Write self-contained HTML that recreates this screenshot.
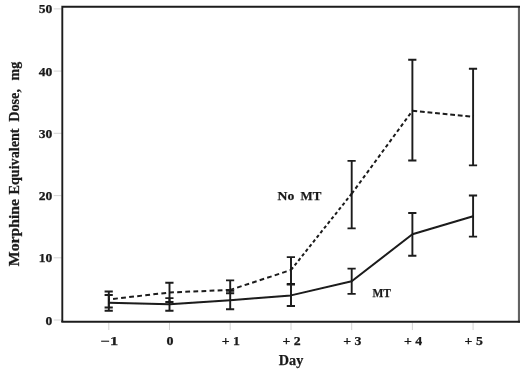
<!DOCTYPE html>
<html><head><meta charset="utf-8"><title>Morphine Equivalent Dose</title>
<style>
html,body{margin:0;padding:0;background:#fff;}
svg{display:block;}
text{font-family:"Liberation Serif","DejaVu Serif",serif;font-weight:bold;fill:#1a1a1a;stroke:#1a1a1a;stroke-width:0.25;}
</style></head><body>
<svg width="520" height="371" viewBox="0 0 520 371">
<defs><filter id="soft" filterUnits="userSpaceOnUse" x="0" y="0" width="520" height="371"><feGaussianBlur stdDeviation="0.45"/></filter></defs>
<rect width="520" height="371" fill="#fff"/>
<g filter="url(#soft)">

<line x1="53.7" y1="320.0" x2="61.5" y2="320.0" stroke="#cfcfcf" stroke-width="0.9"/>
<line x1="53.7" y1="257.8" x2="61.5" y2="257.8" stroke="#cfcfcf" stroke-width="0.9"/>
<line x1="53.7" y1="195.6" x2="61.5" y2="195.6" stroke="#cfcfcf" stroke-width="0.9"/>
<line x1="53.7" y1="133.3" x2="61.5" y2="133.3" stroke="#cfcfcf" stroke-width="0.9"/>
<line x1="53.7" y1="71.1" x2="61.5" y2="71.1" stroke="#cfcfcf" stroke-width="0.9"/>
<line x1="53.7" y1="8.9" x2="61.5" y2="8.9" stroke="#cfcfcf" stroke-width="0.9"/>
<line x1="108.8" y1="322.5" x2="108.8" y2="330" stroke="#cfcfcf" stroke-width="0.9"/>
<line x1="169.5" y1="322.5" x2="169.5" y2="330" stroke="#cfcfcf" stroke-width="0.9"/>
<line x1="230.2" y1="322.5" x2="230.2" y2="330" stroke="#cfcfcf" stroke-width="0.9"/>
<line x1="291.0" y1="322.5" x2="291.0" y2="330" stroke="#cfcfcf" stroke-width="0.9"/>
<line x1="351.7" y1="322.5" x2="351.7" y2="330" stroke="#cfcfcf" stroke-width="0.9"/>
<line x1="412.4" y1="322.5" x2="412.4" y2="330" stroke="#cfcfcf" stroke-width="0.9"/>
<line x1="473.1" y1="322.5" x2="473.1" y2="330" stroke="#cfcfcf" stroke-width="0.9"/>
<rect x="517.9" y="6" width="2.1" height="316.5" fill="#636363"/>
<path d="M62.3 322 V6.7 H520" fill="none" stroke="#1a1a1a" stroke-width="1.9" stroke-linejoin="miter"/>
<path d="M61.35 321.8 H520" fill="none" stroke="#1a1a1a" stroke-width="1.9"/>
<text x="45.6" y="324.5" font-size="12.3" textLength="6.8" lengthAdjust="spacingAndGlyphs">0</text>
<text x="38.8" y="262.3" font-size="12.3" textLength="13.6" lengthAdjust="spacingAndGlyphs">10</text>
<text x="38.8" y="200.1" font-size="12.3" textLength="13.6" lengthAdjust="spacingAndGlyphs">20</text>
<text x="38.8" y="137.8" font-size="12.3" textLength="13.6" lengthAdjust="spacingAndGlyphs">30</text>
<text x="38.8" y="75.6" font-size="12.3" textLength="13.6" lengthAdjust="spacingAndGlyphs">40</text>
<text x="38.8" y="13.4" font-size="12.3" textLength="13.6" lengthAdjust="spacingAndGlyphs">50</text>
<text x="100.6" y="344.5" font-size="11.8" textLength="17.5" lengthAdjust="spacingAndGlyphs">−1</text>
<text x="166.6" y="344.5" font-size="11.8" textLength="7.0" lengthAdjust="spacingAndGlyphs">0</text>
<text x="221.7" y="344.5" font-size="11.8" textLength="18.2" lengthAdjust="spacingAndGlyphs">+ 1</text>
<text x="282.5" y="344.5" font-size="11.8" textLength="18.2" lengthAdjust="spacingAndGlyphs">+ 2</text>
<text x="343.2" y="344.5" font-size="11.8" textLength="18.2" lengthAdjust="spacingAndGlyphs">+ 3</text>
<text x="403.9" y="344.5" font-size="11.8" textLength="18.2" lengthAdjust="spacingAndGlyphs">+ 4</text>
<text x="464.6" y="344.5" font-size="11.8" textLength="18.2" lengthAdjust="spacingAndGlyphs">+ 5</text>
<text x="278.8" y="365.3" font-size="14" textLength="24.5" lengthAdjust="spacingAndGlyphs">Day</text>
<text transform="translate(18.9 266.2) rotate(-90)" font-size="14"><tspan x="0" textLength="67.2" lengthAdjust="spacingAndGlyphs">Morphine</tspan> <tspan x="71.7" textLength="66" lengthAdjust="spacingAndGlyphs">Equivalent</tspan> <tspan x="144.4" textLength="32.8" lengthAdjust="spacingAndGlyphs">Dose,</tspan> <tspan x="185.7" textLength="18.7" lengthAdjust="spacingAndGlyphs">mg</tspan></text>
<text y="200.3" font-size="13.4"><tspan x="277.6" textLength="16.7" lengthAdjust="spacingAndGlyphs">No</tspan> <tspan x="300.6" textLength="20.8" lengthAdjust="spacingAndGlyphs">MT</tspan></text>
<text x="372.6" y="296.7" font-size="12.5" textLength="18.4" lengthAdjust="spacingAndGlyphs">MT</text>
<path d="M108.8 291.5 V307.5 M104.6 291.5 H112.8 M104.6 307.5 H112.8" fill="none" stroke="#1a1a1a" stroke-width="1.9"/>
<path d="M169.5 282.8 V302.0 M165.3 282.8 H173.5 M165.3 302.0 H173.5" fill="none" stroke="#1a1a1a" stroke-width="1.9"/>
<path d="M230.2 280.4 V293.3 M226.0 280.4 H234.2 M226.0 293.3 H234.2" fill="none" stroke="#1a1a1a" stroke-width="1.9"/>
<path d="M291.0 257.1 V284.0 M286.8 257.1 H295.0 M286.8 284.0 H295.0" fill="none" stroke="#1a1a1a" stroke-width="1.9"/>
<path d="M351.7 160.9 V228.4 M347.5 160.9 H355.7 M347.5 228.4 H355.7" fill="none" stroke="#1a1a1a" stroke-width="1.9"/>
<path d="M412.4 59.8 V160.5 M408.2 59.8 H416.4 M408.2 160.5 H416.4" fill="none" stroke="#1a1a1a" stroke-width="1.9"/>
<path d="M473.1 68.7 V165.4 M468.9 68.7 H477.1 M468.9 165.4 H477.1" fill="none" stroke="#1a1a1a" stroke-width="1.9"/>
<path d="M108.8 295.0 V310.7 M104.6 295.0 H112.8 M104.6 310.7 H112.8" fill="none" stroke="#1a1a1a" stroke-width="1.9"/>
<path d="M169.5 298.1 V310.7 M165.3 298.1 H173.5 M165.3 310.7 H173.5" fill="none" stroke="#1a1a1a" stroke-width="1.9"/>
<path d="M230.2 290.7 V309.2 M226.0 290.7 H234.2 M226.0 309.2 H234.2" fill="none" stroke="#1a1a1a" stroke-width="1.9"/>
<path d="M291.0 284.6 V306.0 M286.8 284.6 H295.0 M286.8 306.0 H295.0" fill="none" stroke="#1a1a1a" stroke-width="1.9"/>
<path d="M351.7 268.6 V293.9 M347.5 268.6 H355.7 M347.5 293.9 H355.7" fill="none" stroke="#1a1a1a" stroke-width="1.9"/>
<path d="M412.4 213.0 V255.7 M408.2 213.0 H416.4 M408.2 255.7 H416.4" fill="none" stroke="#1a1a1a" stroke-width="1.9"/>
<path d="M473.1 195.5 V236.6 M468.9 195.5 H477.1 M468.9 236.6 H477.1" fill="none" stroke="#1a1a1a" stroke-width="1.9"/>
<g fill="none" stroke="#1a1a1a" stroke-width="2">
<line x1="108.8" y1="299.4" x2="169.5" y2="292.5" stroke-dasharray="4.8 3.3" stroke-dashoffset="3.8"/>
<line x1="169.5" y1="292.5" x2="230.2" y2="289.9" stroke-dasharray="4.8 3.3" stroke-dashoffset="0.4"/>
<line x1="230.2" y1="289.9" x2="291.0" y2="270.0" stroke-dasharray="4.7 3.2" stroke-dashoffset="0.6"/>
<line x1="291.0" y1="270.0" x2="351.7" y2="193.7" stroke-dasharray="3.3 2.6" stroke-dashoffset="0"/>
<line x1="351.7" y1="193.7" x2="412.4" y2="110.8" stroke-dasharray="3.6 2.8" stroke-dashoffset="0"/>
<line x1="412.4" y1="110.8" x2="473.1" y2="116.8" stroke-dasharray="4.8 2.8" stroke-dashoffset="0"/>
</g>
<polyline points="108.8,302.8 169.5,304.3 230.2,300.2 291.0,295.4 351.7,281.2 412.4,234.3 473.1,216.2" fill="none" stroke="#1a1a1a" stroke-width="2" stroke-linejoin="round"/>
</g>
</svg></body></html>
